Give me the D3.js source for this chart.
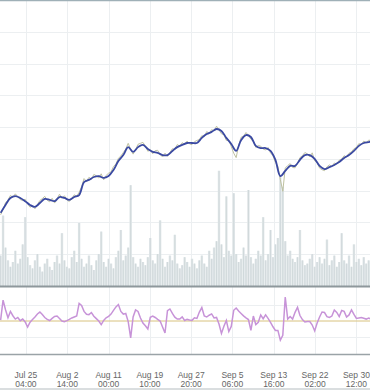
<!DOCTYPE html>
<html>
<head>
<meta charset="utf-8">
<script src="https://cdn.jsdelivr.net/npm/d3@7"></script>
<style>
  html, body { margin: 0; padding: 0; background: #fff; }
  svg { display: block; }
  .tick-label { font-family: "Liberation Sans", Arial, sans-serif; font-size: 8.5px; fill: #666; }
</style>
</head>
<body>
<div id="chart"></div>
<script>
// Chart size
var width = 370,
    height = 390;

// Panels (main price panel, oscillator panel, axis band)
var mainTop = 0, mainBottom = 286,
    oscTop = 287, oscBottom = 354;

// Time grid: daily smoothed points, 12h raw/volume/oscillator points
var startDay = new Date(2013, 6, 20, 0, 0);
var domainStart = new Date(2013, 6, 19, 21, 0),
    domainEnd = new Date(2013, 9, 3, 6, 30);

// Axis tick labels
var tickDates = ["2013-07-25 04:00", "2013-08-02 14:00", "2013-08-11 00:00", "2013-08-19 10:00",
    "2013-08-27 20:00", "2013-09-05 06:00", "2013-09-13 16:00", "2013-09-22 02:00", "2013-09-30 12:00"];

// Smoothed price (one per day)
var smoothPrice = [83.0, 85.5, 87.7, 88.3, 87.7, 86.7, 85.5, 84.9, 86.1, 87.4,
    87.1, 86.7, 88.0, 87.7, 87.1, 88.0, 88.6, 92.7, 93.4, 94.3,
    94.6, 94.0, 94.6, 96.5, 99.3, 101.2, 103.7, 102.2, 103.7, 104.4,
    103.1, 102.2, 101.9, 101.2, 101.2, 102.5, 103.7, 104.4, 105.0, 105.0,
    105.0, 106.6, 107.8, 108.5, 109.4, 108.8, 106.6, 104.7, 102.5, 105.9,
    107.5, 106.9, 104.1, 103.4, 103.4, 102.5, 99.7, 94.6, 96.2, 97.8,
    97.8, 99.7, 101.2, 101.2, 100.0, 97.8, 96.8, 97.4, 98.1, 99.0,
    100.3, 101.2, 102.5, 104.1, 105.0, 105.3, 105.6];

// Raw price (every 12h)
var rawPrice = [82.4, 84.1, 86.2, 87.0, 88.5, 87.9, 89.0, 88.1, 87.2, 86.9,
    87.3, 85.9, 84.8, 85.2, 84.3, 85.6, 86.9, 87.5, 88.2, 87.0,
    86.5, 87.6, 86.1, 87.4, 88.9, 87.6, 88.4, 87.1, 86.6, 87.5,
    88.7, 88.2, 89.5, 91.2, 93.8, 92.9, 94.2, 93.6, 95.1, 94.7,
    94.0, 95.3, 93.4, 94.8, 95.5, 95.9, 97.6, 98.4, 100.2, 100.9,
    102.0, 103.1, 104.9, 103.0, 101.5, 102.9, 104.6, 104.9, 105.2, 104.0,
    102.4, 102.9, 101.6, 102.6, 102.7, 101.4, 100.6, 101.8, 100.8, 102.0,
    103.2, 103.0, 104.5, 104.0, 105.1, 104.6, 105.6, 104.7, 104.5, 105.4,
    105.8, 106.1, 107.3, 107.0, 108.6, 108.0, 109.2, 108.8, 110.3, 109.1,
    107.9, 107.6, 105.8, 105.9, 103.9, 101.8, 100.4, 104.2, 106.8, 107.1,
    108.3, 107.4, 106.2, 105.5, 103.6, 104.2, 104.0, 103.1, 102.8, 103.6,
    101.9, 101.0, 98.9, 97.6, 93.5, 89.8, 97.1, 97.9, 98.5, 97.3,
    97.2, 98.6, 100.4, 101.0, 102.0, 101.6, 100.6, 101.9, 99.4, 98.8,
    97.1, 96.6, 96.3, 97.5, 98.1, 97.6, 98.7, 98.4, 99.6, 99.9,
    101.0, 100.6, 101.8, 102.2, 103.2, 103.6, 104.8, 104.5, 105.6, 105.1,
    105.9, 105.8, 106.0];

// Volume (every 12h)
var volume = [95, 220, 120, 80, 60, 75, 110, 70, 85, 130,
    215, 90, 65, 55, 80, 100, 60, 45, 70, 85,
    60, 50, 75, 95, 70, 165, 80, 60, 55, 90,
    110, 75, 197, 85, 60, 70, 95, 65, 50, 80,
    100, 170, 75, 60, 85, 70, 55, 90, 110, 175,
    80, 95, 120, 315, 90, 70, 60, 85, 75, 65,
    90, 150, 80, 70, 100, 205, 85, 60, 75, 95,
    80, 160, 70, 55, 65, 90, 75, 60, 85, 70,
    55, 80, 95, 70, 60, 110, 85, 120, 140, 360,
    130, 90, 280, 110, 95, 290, 100, 75, 85, 120,
    95, 300, 90, 70, 85, 110, 95, 215, 80, 100,
    175, 90, 130, 150, 340, 310, 140, 95, 110, 85,
    75, 90, 175, 80, 65, 70, 85, 100, 60, 75,
    90, 70, 85, 145, 65, 80, 95, 60, 75, 165,
    80, 70, 95, 60, 130, 75, 85, 65, 90, 70,
    80, 60, 75];

// Oscillator (every 12h)
var oscillator = [0.06, 1.3, 0.7, 0.2, 0.6, 0.33, 0.12, 0.22, 0.02, 0.12,
    -0.06, -0.38, -0.08, 0.1, 0.25, 0.44, 0.56, 0.4, 0.22, 0.1,
    0.03, 0.16, 0.28, 0.31, 0.16, 0.0, -0.05, 0.02, 0.1, 0.19,
    0.25, 0.31, 1.1, 0.97, 0.6, 0.42, 0.4, 0.53, 0.3, 0.15,
    0.0, -0.23, 0.04, 0.2, 0.29, 0.43, 0.66, 0.88, 1.03, 0.6,
    0.43, 0.47, -0.04, -1.06, 0.25, 0.69, 0.6, 0.19, -0.13, -0.3,
    -0.5, 0.23, 0.31, 0.22, 0.1, 0.0, -0.38, -0.75, 0.64, 0.75,
    0.47, 0.24, 0.12, 0.12, 0.26, 0.03, 0.1, 0.06, 0.04, 0.2,
    0.16, 0.56, 0.84, 0.31, 0.25, 0.36, 0.44, 0.19, 0.22, -0.19,
    -0.78, -0.33, 0.03, -0.66, -0.34, 0.67, 0.81, 0.62, 0.47, 0.32,
    0.2, 0.09, -0.58, 0.31, -0.22, -0.08, 0.38, 0.14, 0.38, 0.16,
    -0.08, -0.36, -0.59, -0.59, -1.2, -0.9, 1.5, 0.12, 0.28, 0.12,
    0.54, 0.86, 0.34, 0.09, -0.06, -0.03, -0.03, -0.25, -0.62, -0.13,
    0.25, 0.56, 0.53, 0.27, 0.22, 0.31, 0.69, 0.54, 0.28, 0.66,
    0.6, 0.25, 0.38, 0.69, 0.41, 0.16, 0.19, 0.22, 0.17, 0.12,
    0.19, 0.12, 0.12];

var priceTicks = [70, 80, 90, 100, 110, 120, 130, 140];
var oscTicks = [-1, 1];

// Build time-stamped rows
var dayMs = 24 * 3600 * 1000;
var smoothData = smoothPrice.map(function(v, i) { return {t: new Date(startDay.getTime() + i * dayMs), v: v}; });
function halfDayRows(arr) {
    return arr.map(function(v, j) { return {t: new Date(startDay.getTime() + j * dayMs / 2), v: v}; });
}
var rawData = halfDayRows(rawPrice),
    volData = halfDayRows(volume),
    oscData = halfDayRows(oscillator);

// Scales
var x = d3.scaleTime().domain([domainStart, domainEnd]).range([0, width]);
var yPrice = d3.scaleLinear().domain([60, 150]).range([mainBottom, mainTop]);
var yVol = d3.scaleLinear().domain([0, 400]).range([mainBottom, mainBottom - 128]);
var yOsc = d3.scaleLinear().domain([-2.0625, 2.125]).range([oscBottom, oscTop]);

var svg = d3.select("#chart").append("svg")
    .attr("width", width)
    .attr("height", height);

svg.append("defs").append("clipPath").attr("id", "clip")
    .append("rect").attr("x", 0).attr("y", 0).attr("width", width).attr("height", height);

var g = svg.append("g").attr("clip-path", "url(#clip)");

// Grid lines
var parseTick = d3.timeParse("%Y-%m-%d %H:%M");
var ticks = tickDates.map(parseTick);

g.append("g").selectAll("line.vgrid")
    .data(ticks)
    .enter().append("line")
    .attr("x1", function(d) { return Math.round(x(d)) + 0.5; })
    .attr("x2", function(d) { return Math.round(x(d)) + 0.5; })
    .attr("y1", mainTop)
    .attr("y2", oscBottom)
    .attr("stroke", "#eceff1")
    .attr("stroke-width", 1);

g.append("g").selectAll("line.hgrid")
    .data(priceTicks)
    .enter().append("line")
    .attr("x1", 0).attr("x2", width)
    .attr("y1", function(d) { return Math.round(yPrice(d)) + 0.5; })
    .attr("y2", function(d) { return Math.round(yPrice(d)) + 0.5; })
    .attr("stroke", "#eceff1");

g.append("g").selectAll("line.ogrid")
    .data(oscTicks)
    .enter().append("line")
    .attr("x1", 0).attr("x2", width)
    .attr("y1", function(d) { return Math.round(yOsc(d)) + 0.5; })
    .attr("y2", function(d) { return Math.round(yOsc(d)) + 0.5; })
    .attr("stroke", "#eceff1");

// Volume bars (thin, light, touching)
var barW = x(new Date(startDay.getTime() + dayMs / 2)) - x(startDay);
var vol = g.append("g");
vol.selectAll("rect")
    .data(volData)
    .enter().append("rect")
    .attr("x", function(d) { return x(d.t) - barW / 2; })
    .attr("width", barW)
    .attr("y", function(d) { return yVol(d.v); })
    .attr("height", function(d) { return mainBottom - yVol(d.v); })
    .attr("fill", "#e2e8ea");
vol.selectAll("line")
    .data(volData)
    .enter().append("line")
    .attr("x1", function(d) { return x(d.t); })
    .attr("x2", function(d) { return x(d.t); })
    .attr("y1", function(d) { return yVol(d.v); })
    .attr("y2", mainBottom)
    .attr("stroke", "#cbd4d7")
    .attr("stroke-width", 0.8);

// Raw price line
g.append("path")
    .datum(rawData)
    .attr("fill", "none")
    .attr("stroke", "#bec1a0")
    .attr("stroke-width", 1)
    .attr("d", d3.line().x(function(d) { return x(d.t); }).y(function(d) { return yPrice(d.v); }));

// Smoothed price line
g.append("path")
    .datum(smoothData)
    .attr("fill", "none")
    .attr("stroke", "#3a49a2")
    .attr("stroke-width", 1.8)
    .attr("d", d3.line().curve(d3.curveCatmullRom).x(function(d) { return x(d.t); }).y(function(d) { return yPrice(d.v); }));

// Oscillator zero line and series
g.append("line")
    .attr("x1", 0).attr("x2", width)
    .attr("y1", yOsc(0)).attr("y2", yOsc(0))
    .attr("stroke", "#d8c27e")
    .attr("stroke-width", 1);

g.append("path")
    .datum(oscData)
    .attr("fill", "none")
    .attr("stroke", "#c793d8")
    .attr("stroke-width", 1.5)
    .attr("d", d3.line().x(function(d) { return x(d.t); }).y(function(d) { return yOsc(d.v); }));

// Panel borders
svg.append("line").attr("x1", 0).attr("x2", width).attr("y1", 0.5).attr("y2", 0.5)
    .attr("stroke", "#9fb0b7").attr("stroke-width", 1.5);
svg.append("line").attr("x1", 0).attr("x2", width).attr("y1", mainBottom + 0.5).attr("y2", mainBottom + 0.5)
    .attr("stroke", "#8e989c").attr("stroke-width", 2);
svg.append("line").attr("x1", 0).attr("x2", width).attr("y1", oscBottom + 0.5).attr("y2", oscBottom + 0.5)
    .attr("stroke", "#9aa3a7").attr("stroke-width", 1.5);
svg.append("line").attr("x1", 0).attr("x2", width).attr("y1", height - 1).attr("y2", height - 1)
    .attr("stroke", "#b5bdc0").attr("stroke-width", 1);

// Time axis labels
var fmtDay = d3.timeFormat("%b %-d"),
    fmtHour = d3.timeFormat("%H:%M");
var labels = svg.append("g").selectAll("text")
    .data(ticks)
    .enter().append("text")
    .attr("class", "tick-label")
    .attr("text-anchor", "middle")
    .attr("x", function(d) { return x(d); })
    .attr("y", 378);
labels.append("tspan").attr("x", function(d) { return x(d); }).text(function(d) { return fmtDay(d); });
labels.append("tspan").attr("x", function(d) { return x(d); }).attr("dy", 9).text(function(d) { return fmtHour(d); });
</script>
</body>
</html>
